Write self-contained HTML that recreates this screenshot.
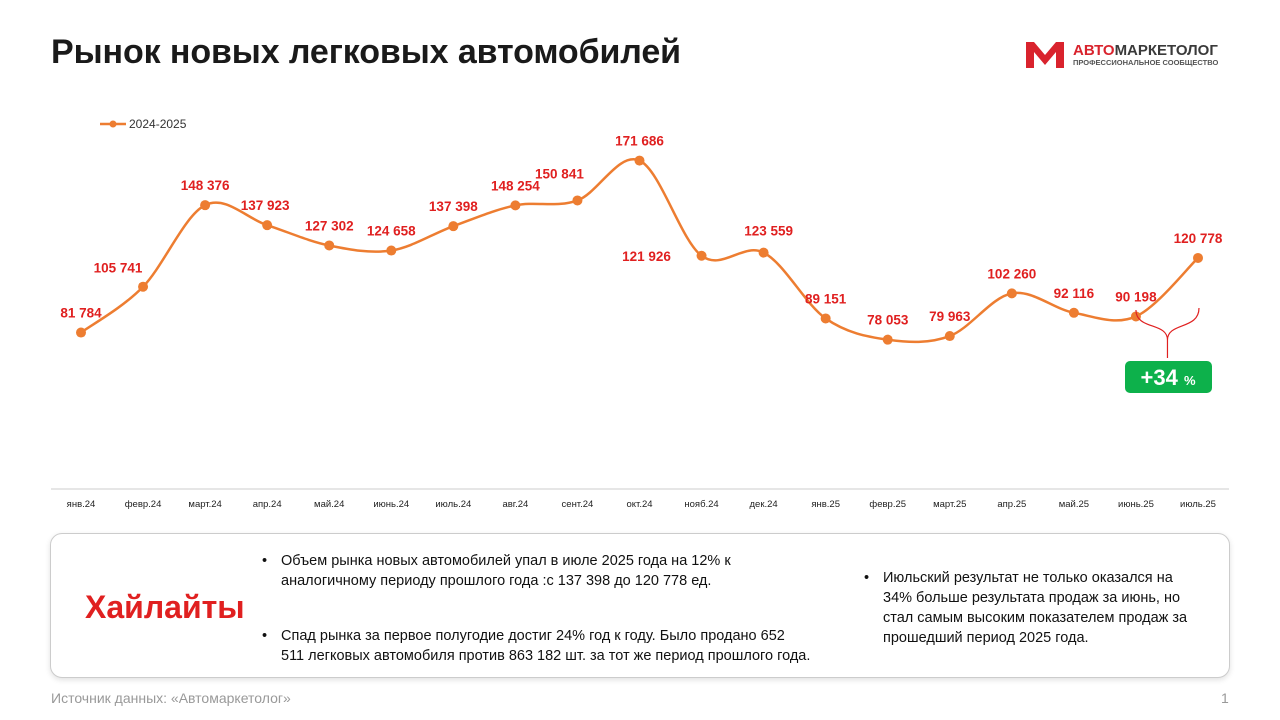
<!DOCTYPE html>
<html><head><meta charset="utf-8">
<style>
body{margin:0;width:1280px;height:720px;background:#fff;font-family:"Liberation Sans","DejaVu Sans",sans-serif;position:relative;overflow:hidden}
.title{position:absolute;left:51px;top:33px;font-size:34px;font-weight:bold;color:#1a1a1a;letter-spacing:-0.1px}
.logo{position:absolute;left:1026px;top:40px}
.box{position:absolute;left:50px;top:533px;width:1178px;height:143px;border:1px solid #ccc;border-radius:12px;box-shadow:0 2px 6px rgba(0,0,0,0.12);background:#fff}
.hl{position:absolute;left:34px;top:55px;font-size:32px;font-weight:bold;color:#e02020}
.b{position:absolute;font-size:14.5px;color:#111;line-height:20px}
.b:before{content:"•";position:absolute;left:-19px}
.src{position:absolute;left:51px;top:690px;font-size:14px;color:#999}
.pg{position:absolute;left:1221px;top:690px;font-size:14px;color:#999}
</style></head><body>
<div class="title">Рынок новых легковых автомобилей</div>
<div class="logo">
<svg width="210" height="30"><path d="M0 2 L8 2 L19 15 L30 2 L38 2 L38 28 L30 28 L30 12 L19 25 L8 12 L8 28 L0 28 Z" fill="#d9232d"/>
<text x="47" y="15" font-size="15" font-weight="bold" fill="#d9232d">АВТО<tspan fill="#3a3a3a">МАРКЕТОЛОГ</tspan></text>
<text x="47" y="25" font-size="7.5" fill="#555" font-weight="bold">ПРОФЕССИОНАЛЬНОЕ СООБЩЕСТВО</text></svg></div>
<svg id="chart" width="1280" height="520" style="position:absolute;left:0;top:0"></svg>
<div class="box">
<div class="hl">Хайлайты</div>
<div class="b" style="left:230px;top:17px;width:510px">Объем рынка новых автомобилей упал в июле 2025 года на 12% к аналогичному периоду прошлого года :с 137 398 до 120 778 ед.</div>
<div class="b" style="left:230px;top:92px;width:620px;white-space:nowrap">Спад рынка за первое полугодие достиг 24% год к году. Было продано 652<br>511 легковых автомобиля против 863 182 шт. за тот же период прошлого года.</div>
<div class="b" style="left:832px;top:34px;width:322px">Июльский результат не только оказался на 34% больше результата продаж за июнь, но стал самым высоким показателем продаж за прошедший период 2025 года.</div>
</div>
<div class="src">Источник данных: «Автомаркетолог»</div>
<div class="pg">1</div>
<script>
const categories=["янв.24","февр.24","март.24","апр.24","май.24","июнь.24","июль.24","авг.24","сент.24","окт.24","нояб.24","дек.24","янв.25","февр.25","март.25","апр.25","май.25","июнь.25","июль.25"];
const values=[81784,105741,148376,137923,127302,124658,137398,148254,150841,171686,121926,123559,89151,78053,79963,102260,92116,90198,120778];
const seriesName="2024-2025";
const labelDx=[0,-25,0,-2,0,0,0,0,-18,0,-55,5,0,0,0,0,0,0,0];
const labelDy=[-15,-14,-15,-15,-15,-15,-15,-15,-22,-15,5,-17,-15,-15,-15,-15,-15,-15,-15];
const NS="http://www.w3.org/2000/svg",svg=document.getElementById('chart');
const x=i=>81+i*(1198-81)/(categories.length-1);
const y=v=>489-v*0.001913;
const fmt=v=>String(v).replace(/\B(?=(\d{3})+(?!\d))/g," ");
function el(t,a){const e=document.createElementNS(NS,t);for(const k in a)e.setAttribute(k,a[k]);svg.appendChild(e);return e;}
let ax=el('line',{x1:51,x2:1229,y1:489,y2:489,stroke:'#ccc'});


categories.forEach((c,i)=>{const t=el('text',{x:x(i),y:507,'font-size':9.5,'text-anchor':'middle',fill:'#222'});t.textContent=c;

});
const P=values.map((v,i)=>[x(i),y(v)]);
let d=`M${P[0][0]},${P[0][1]}`;
for(let i=0;i<P.length-1;i++){const p0=P[Math.max(0,i-1)],p1=P[i],p2=P[i+1],p3=P[Math.min(P.length-1,i+2)];const k=6;
d+=` C${p1[0]+(p2[0]-p0[0])/k},${p1[1]+(p2[1]-p0[1])/k} ${p2[0]-(p3[0]-p1[0])/k},${p2[1]-(p3[1]-p1[1])/k} ${p2[0]},${p2[1]}`;}
let ln=el('path',{d:d,fill:'none',stroke:'#ed7d31','stroke-width':2.5});


values.forEach((v,i)=>{let c=el('circle',{cx:P[i][0],cy:P[i][1],r:5,fill:'#ed7d31'});


let t=el('text',{x:P[i][0]+labelDx[i],y:P[i][1]+labelDy[i],'font-size':13.5,'font-weight':'bold','text-anchor':'middle',fill:'#e02020'});t.textContent=fmt(v);

});
let lg=el('line',{x1:100,x2:126,y1:124,y2:124,stroke:'#ed7d31','stroke-width':2.5});


let lc=el('circle',{cx:113,cy:124,r:3.5,fill:'#ed7d31'});


let lt=el('text',{x:129,y:128,'font-size':12,fill:'#333'});lt.textContent=seriesName;


const bx1=P[17][0],bx2=P[18][0]+1,mid=(bx1+bx2)/2;
let br=el('path',{d:`M${bx1},310 C${bx1},330 ${mid},322 ${mid},340 L${mid},358 M${mid},340 C${mid},322 ${bx2},330 ${bx2},308`,fill:'none',stroke:'#e02020','stroke-width':1.2});


let bd=el('rect',{x:1125,y:361,width:87,height:32,rx:5,fill:'#0db14b'});


let bt=el('text',{x:1168,y:385,'font-size':22,'font-weight':'bold','text-anchor':'middle',fill:'#fff'});bt.innerHTML='+34 <tspan font-size="13">%</tspan>';


</script>
</body></html>
